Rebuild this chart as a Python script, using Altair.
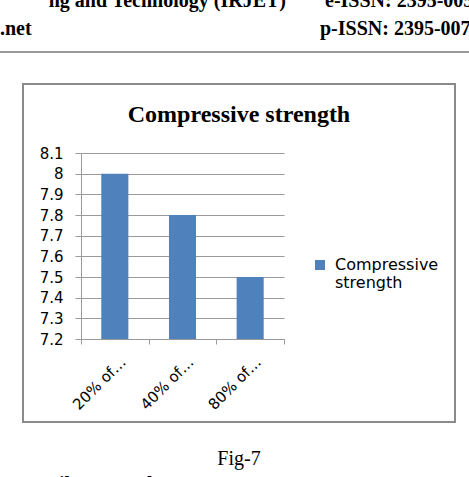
import altair as alt
import pandas as pd

categories = ["20% of…", "40% of…", "80% of…"]
values = [8.0, 7.8, 7.5]
y_ticks = [7.2, 7.3, 7.4, 7.5, 7.6, 7.7, 7.8, 7.9, 8.0, 8.1]
series_name = "Compressive strength"
chart_title = "Compressive strength"
caption = "Fig-7"
header_left_1 = "ng and Technology (IRJET)"
header_left_2 = ".net"
header_right_1 = "e-ISSN: 2395-0056"
header_right_2 = "p-ISSN: 2395-0072"
next_heading = "3. Tensile Strength"

df = pd.DataFrame({"cat": categories, "val": values, "series": [series_name] * len(values)})

W, H = 203, 186
PL, PT = 81, 153
CW, CH = 469, 477

GRID = "#9a9a9a"
BLUE = "#4F81BD"
SANS = "DejaVu Sans"

bars = alt.Chart(df).mark_bar(width=alt.RelativeBandSize(0.4)).encode(
    x=alt.X("cat:N", sort=categories, title=None,
            scale=alt.Scale(paddingInner=0, paddingOuter=0),
            axis=alt.Axis(labelAngle=-45, labelAlign="right", labelBaseline="middle",
                          labelFont=SANS, labelFontSize=15, labelColor="#000",
                          labelPadding=15, labelOffset=8,
                          tickBand="extent", tickSize=5, tickColor=GRID,
                          domainColor=GRID, grid=False)),
    y=alt.Y("val:Q", title=None,
            scale=alt.Scale(domain=[7.2, 8.1], zero=False, nice=False),
            axis=alt.Axis(values=y_ticks, format=".1~f", labelFont=SANS, labelFontSize=15,
                          labelColor="#000", labelPadding=12, tickSize=6, tickColor=GRID,
                          domainColor=GRID, gridColor=GRID, grid=True)),
    y2=alt.Y2(datum=7.2),
    color=alt.Color("series:N", scale=alt.Scale(range=[BLUE]),
                    legend=alt.Legend(title=None, orient="none", legendX=231, legendY=104,
                                      symbolType="square", symbolSize=100, symbolStrokeWidth=0,
                                      labelFont=SANS, labelFontSize=16, labelColor="#000",
                                      labelExpr="['Compressive', 'strength']",
                                      labelOffset=7, padding=0)),
)

def txt(s, x, y, font="Liberation Serif", size=20, weight="bold", align="left"):
    return alt.Chart(pd.DataFrame({"t": [s]})).mark_text(
        font=font, fontSize=size, fontWeight=weight, align=align, baseline="alphabetic", color="#000"
    ).encode(text="t:N", x=alt.value(x - PL), y=alt.value(y - PT))

border = alt.Chart(pd.DataFrame({"a": [0]})).mark_rect(
    fillOpacity=0, stroke="#8a8a8a", strokeWidth=2
).encode(x=alt.value(23 - PL), x2=alt.value(455 - PL), y=alt.value(84 - PT), y2=alt.value(422 - PT))

header_rule = alt.Chart(pd.DataFrame({"a": [0]})).mark_rule(
    color="#999", strokeWidth=2
).encode(x=alt.value(-PL), x2=alt.value(CW - PL), y=alt.value(52 - PT))

layers = [
    border, header_rule, bars,
    txt(chart_title, 239, 122, size=24, align="center"),
    txt(header_left_1, 286, 7, align="right"),
    txt(header_left_2, 0, 35),
    txt(header_right_1, 325, 7),
    txt(header_right_2, 320, 35),
    txt(caption, 239, 465, size=20, weight="normal", align="center"),
    txt(next_heading, 0, 491),
]

chart = alt.layer(*layers).properties(
    width=W, height=H,
    autosize=alt.AutoSizeParams(type="none"),
    padding={"left": PL, "top": PT, "right": CW - PL - W, "bottom": CH - PT - H},
    background="white",
).configure_view(stroke=None)

chart.save("out.html", embed_options={"renderer": "svg", "actions": False})
